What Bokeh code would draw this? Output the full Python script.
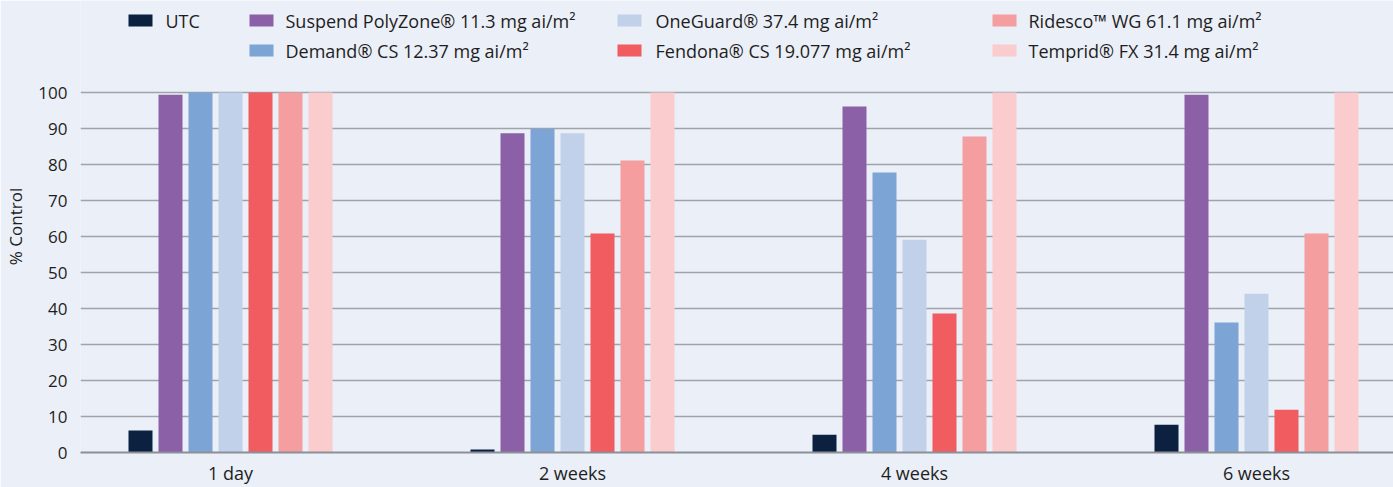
import numpy as np
from bokeh.plotting import figure
from bokeh.models import Range1d, FixedTicker, ColumnDataSource
from bokeh.core.properties import value
from bokeh.embed import file_html
from bokeh.resources import INLINE

# ---------------- data ----------------
timepoints = ["1 day", "2 weeks", "4 weeks", "6 weeks"]
series_names = [
    "UTC",
    "Suspend PolyZone® 11.3 mg ai/m²",
    "Demand® CS 12.37 mg ai/m²",
    "OneGuard® 37.4 mg ai/m²",
    "Fendona® CS 19.077 mg ai/m²",
    "Ridesco™ WG 61.1 mg ai/m²",
    "Temprid® FX 31.4 mg ai/m²",
]
utc = [6.1, 0.8, 4.9, 7.7]
suspend = [99.4, 88.7, 96.1, 99.4]
demand = [100, 89.9, 77.8, 36.1]
oneguard = [100, 88.7, 59.1, 44.1]
fendona = [100, 60.8, 38.6, 11.9]
ridesco = [100, 81.1, 87.8, 60.8]
temprid = [100, 100, 100, 100]
y_ticks = [0, 10, 20, 30, 40, 50, 60, 70, 80, 90, 100]

series_values = [utc, suspend, demand, oneguard, fendona, ridesco, temprid]
colors = ["#0c2140", "#8b60a7", "#7ca4d5", "#c1d1ea", "#f05c5f", "#f59e9f", "#fbcccd"]

BG = "#ebeff8"
TXT = "#1e1e22"
FONT = "Open Sans"
W, H = 1393, 487

# pixel layout helpers (frame: left 80, zero line at 452, 3.6 px per %, 342 px per group)
FRAME_L, ZERO_Y, PX_Y, PX_G, G0 = 80, 452, 3.6, 342.0, 230


def dx(px):
    return (px - G0) / PX_G


def dy(py):
    return (ZERO_Y - py) / PX_Y


p = figure(width=W, height=H,
           x_range=Range1d(dx(FRAME_L), dx(W)),
           y_range=Range1d(0, dy(0)),
           toolbar_location=None, output_backend="svg",
           min_border_left=FRAME_L, min_border_right=0, min_border_top=0,
           min_border_bottom=H - ZERO_Y)
p.background_fill_color = BG
p.border_fill_color = BG
p.outline_line_color = None

# ---------------- bars ----------------
bar_w = 24.0 / PX_G
step = 30.0 / PX_G
idx = np.arange(len(timepoints))
for j, (vals, c) in enumerate(zip(series_values, colors)):
    src = ColumnDataSource(dict(x=idx + (j - 3) * step, top=vals))
    p.vbar(x="x", top="top", width=bar_w, bottom=0, source=src,
           fill_color=c, line_color=None)

# ---------------- legend (column-wise, first column holds UTC only) ----------------
sw_px = [140, 261, 261, 629, 629, 1004, 1004]
tx_px = [165, 285, 285, 655, 655, 1028, 1028]
row_px = [20, 20, 50, 20, 50, 20, 50]
p.rect(x=[dx(v) for v in sw_px], y=[dy(v) for v in row_px], width=24, height=12,
       width_units="screen", height_units="screen",
       fill_color=colors, line_color=None)
p.text(x=[dx(v) for v in tx_px], y=[dy(v) for v in row_px], text=series_names,
       text_font=value(FONT), text_font_size=value("18px"), text_baseline="middle",
       text_align="left", text_color=TXT)

# ---------------- axes / grid ----------------
p.xgrid.visible = False
p.ygrid.ticker = FixedTicker(ticks=y_ticks)
p.ygrid.grid_line_color = "#9fa3aa"
p.ygrid.grid_line_width = 1.5

p.yaxis.ticker = FixedTicker(ticks=y_ticks)
p.yaxis.axis_line_color = None
p.yaxis.major_tick_line_color = None
p.yaxis.minor_tick_line_color = None
p.yaxis.major_tick_out = 0
p.yaxis.major_label_standoff = 13
p.yaxis.major_label_text_font = FONT
p.yaxis.major_label_text_font_size = "17px"
p.yaxis.major_label_text_color = TXT
p.yaxis.axis_label = "% Control"
p.yaxis.axis_label_text_font = FONT
p.yaxis.axis_label_text_font_size = "17px"
p.yaxis.axis_label_text_font_style = "normal"
p.yaxis.axis_label_text_color = TXT
p.yaxis.axis_label_standoff = 8

p.xaxis.ticker = FixedTicker(ticks=list(range(len(timepoints))))
p.xaxis.major_label_overrides = {i: t for i, t in enumerate(timepoints)}
p.xaxis.axis_line_color = "#8c8f95"
p.xaxis.axis_line_width = 2
p.xaxis.major_tick_line_color = None
p.xaxis.minor_tick_line_color = None
p.xaxis.major_tick_out = 0
p.xaxis.major_label_standoff = 8
p.xaxis.major_label_text_font = FONT
p.xaxis.major_label_text_font_size = "18px"
p.xaxis.major_label_text_color = TXT

open("out.html", "w").write(file_html(p, INLINE))
